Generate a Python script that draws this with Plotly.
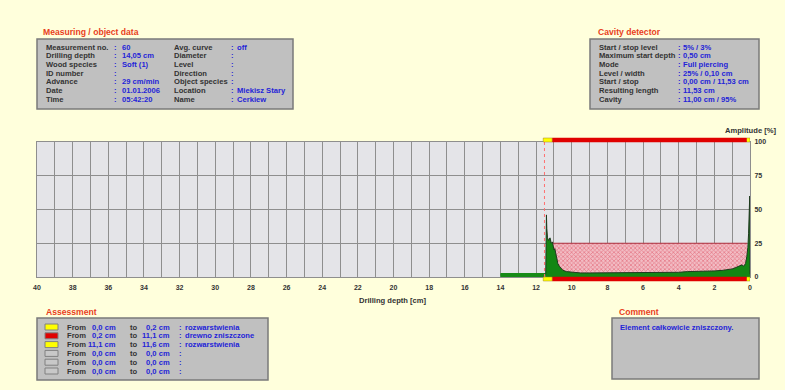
import plotly.graph_objects as go

# ---------------- data ----------------
meas_labels_1 = ["Measurement no.", "Drilling depth", "Wood species", "ID number", "Advance", "Date", "Time"]
meas_values_1 = ["60", "14,05 cm", "Soft (1)", "", "29 cm/min", "01.01.2006", "05:42:20"]
meas_labels_2 = ["Avg. curve", "Diameter", "Level", "Direction", "Object species", "Location", "Name"]
meas_values_2 = ["off", "", "", "", "", "Miekisz Stary", "Cerkiew"]

cav_labels = ["Start / stop level", "Maximum start depth", "Mode", "Level / width", "Start / stop", "Resulting length", "Cavity"]
cav_values = ["5% / 3%", "0,50 cm", "Full piercing", "25% / 0,10 cm", "0,00 cm / 11,53 cm", "11,53 cm", "11,00 cm / 95%"]

assess_from = [0.0, 0.2, 11.1, 0.0, 0.0, 0.0]
assess_to = [0.2, 11.1, 11.6, 0.0, 0.0, 0.0]
assess_text = ["rozwarstwienia", "drewno zniszczone", "rozwarstwienia", "", "", ""]
assess_color = ["#ffff00", "#e00000", "#ffff00", "#c8c8c8", "#c8c8c8", "#c8c8c8"]

comment_text = "Element całkowicie zniszczony."

cavity_stop = 11.53
cavity_level = 25
cavity_zone = [11.1, 0.15]

# feed line before the wood (depth cm, amplitude %)
feed_depth = [14.0, 13.0, 12.0, 11.46]
feed_amp = [2, 2, 2, 2]

# drilling resistance curve (depth cm, amplitude %)
depth = [11.46, 11.44, 11.42, 11.40, 11.36, 11.30, 11.22, 11.15, 11.08, 11.0, 10.95, 10.9, 10.85,
         10.78, 10.7, 10.6, 10.5, 10.3, 10.0, 9.5, 9.0, 8.5, 8.0, 7.5, 7.0, 6.5, 6.0, 5.5, 5.0,
         4.5, 4.0, 3.5, 3.0, 2.5, 2.0, 1.5, 1.2, 1.0, 0.8, 0.6, 0.45, 0.35, 0.25, 0.18, 0.12,
         0.08, 0.05, 0.03, 0.015, 0.0]
amp = [2, 30, 46, 36, 29, 27, 29, 25, 26, 20, 21, 18, 14,
       10, 8, 6, 5, 4, 3.5, 3, 3, 3, 3, 3, 3, 3, 3, 3, 3.5,
       3.5, 3.5, 4, 4, 4, 4.5, 5, 5.5, 6, 7, 8, 9, 8, 10, 15, 22,
       32, 45, 58, 60, 2]

x_ticks = list(range(40, -1, -2))
y_ticks = [0, 25, 50, 75, 100]

# ---------------- layout helpers ----------------
WIDTH, HEIGHT = 785, 390
PL, PR, PT, PB = 37, 750, 142, 277
PW, PH = PR - PL, PB - PT

BG = "#ffffdc"
RED_T = "#e8401c"
LAB = "#333333"
VAL = "#2424d8"
FONT = "Liberation Sans, Arial, sans-serif"

annotations = []
shapes = []


def fx(px):
    return (px - PL) / PW


def fy(py):
    return (PB - py) / PH


def txt(px, py, s, color, size=7.6, anchor="left", weight="bold"):
    annotations.append(dict(x=fx(px), y=fy(py), xref="paper", yref="paper", text=s,
                            showarrow=False, xanchor=anchor, yanchor="middle",
                            font=dict(family=FONT, size=size, color=color, weight=weight)))


def box(x0, y0, x1, y1, fill="#c0c0c0", line="#7a7a7a", lw=1.5):
    shapes.append(dict(type="rect", xref="paper", yref="paper", x0=fx(x0), x1=fx(x1),
                       y0=fy(y1), y1=fy(y0), fillcolor=fill, line=dict(color=line, width=lw),
                       layer="below"))


# ---------------- figure ----------------
fig = go.Figure()

# cavity hatched zone
fig.add_trace(go.Scatter(x=cavity_zone, y=[cavity_level, cavity_level], mode="lines",
                         line=dict(color="#b03040", width=1), fill="tozeroy",
                         fillcolor="rgba(0,0,0,0)",
                         fillpattern=dict(shape="x", fgcolor="#d84050", bgcolor="#f2bcc4",
                                          size=3, solidity=0.45),
                         hoverinfo="skip", showlegend=False))

# feed line
fig.add_trace(go.Scatter(x=feed_depth, y=feed_amp, mode="lines", fill="tozeroy",
                         fillcolor="#178a17", line=dict(color="#178a17", width=2.5),
                         showlegend=False))

# resistance curve
fig.add_trace(go.Scatter(x=depth, y=amp, mode="lines", fill="tozeroy",
                         fillcolor="#138613", line=dict(color="#1e3a1e", width=1),
                         showlegend=False))

# dotted cavity stop line
shapes.append(dict(type="line", xref="x", yref="y", x0=cavity_stop, x1=cavity_stop, y0=0, y1=100,
                   line=dict(color="#ff7070", width=1, dash="dot")))

# assessment bars top and bottom
for a, b, c in zip(assess_from, assess_to, assess_color):
    if b <= a:
        continue
    for y0, y1 in [(1.0, 1.0 + 4 / PH), (-4 / PH, 0.0)]:
        shapes.append(dict(type="rect", xref="x", yref="paper", x0=a, x1=b, y0=y0, y1=y1,
                           fillcolor=c, line=dict(color="#a08020" if c == "#ffff00" else c, width=0.5)))

TS = 8.6
# ---- Measuring / object data box ----
txt(41, 32, "Measuring / object data", RED_T, size=TS)
box(37, 39, 293, 109)
row0, dy = 47, 8.7
for i in range(7):
    y = row0 + i * dy
    txt(44, y, meas_labels_1[i], LAB)
    txt(112, y, ":", VAL)
    txt(120, y, meas_values_1[i], VAL)
    txt(172, y, meas_labels_2[i], LAB)
    txt(229, y, ":", VAL)
    txt(235, y, meas_values_2[i], VAL)

# ---- Cavity detector box ----
txt(596, 32, "Cavity detector", RED_T, size=TS)
box(590, 39, 759, 109)
for i in range(7):
    y = row0 + i * dy
    txt(597, y, cav_labels[i], LAB)
    txt(676, y, ":", VAL)
    txt(681, y, cav_values[i], VAL)

# ---- Assessment box ----
txt(44, 312, "Assessment", RED_T, size=TS)
box(37, 318, 268, 380)
for i in range(6):
    y = 327 + i * 8.8
    shapes.append(dict(type="rect", xref="paper", yref="paper", x0=fx(45), x1=fx(58),
                       y0=fy(y + 3), y1=fy(y - 3), fillcolor=assess_color[i],
                       line=dict(color="#808080", width=1)))
    txt(65, y, "From", LAB)
    txt(118, y, f"{assess_from[i]:.1f}".replace(".", ",") + " cm", VAL, anchor="right")
    txt(128, y, "to", LAB)
    txt(172, y, f"{assess_to[i]:.1f}".replace(".", ",") + " cm", VAL, anchor="right")
    txt(177, y, ":", VAL)
    txt(183, y, assess_text[i], VAL)

# ---- Comment box ----
txt(617, 312, "Comment", RED_T, size=TS)
box(612, 318, 759, 379)
txt(618, 327, comment_text, VAL)

# axis titles
txt(393, 300, "Drilling depth [cm]", LAB, anchor="center")
txt(751, 130, "Amplitude [%]", LAB, anchor="center")

fig.update_layout(
    width=WIDTH, height=HEIGHT,
    margin=dict(l=PL, r=WIDTH - PR, t=PT, b=HEIGHT - PB),
    paper_bgcolor=BG, plot_bgcolor="#e4e4e8",
    showlegend=False,
    annotations=annotations, shapes=shapes,
    xaxis=dict(range=[40, 0], tickvals=x_ticks, ticktext=[str(v) for v in x_ticks],
               showgrid=True, gridcolor="#8e8e8e", gridwidth=1,
               minor=dict(dtick=1, showgrid=True, gridcolor="#8e8e8e", gridwidth=1),
               zeroline=False, showline=True, linecolor="#8e8e8e", mirror=True,
               ticks="", ticklabelstandoff=4,
               tickfont=dict(family=FONT, size=7, color=LAB, weight="bold")),
    yaxis=dict(range=[0, 100], side="right", tickvals=y_ticks,
               showgrid=True, gridcolor="#8e8e8e", gridwidth=1, zeroline=False,
               showline=True, linecolor="#8e8e8e", mirror=True, ticks="",
               ticklabelstandoff=2,
               tickfont=dict(family=FONT, size=7, color=LAB, weight="bold")),
)

fig.write_html("out.html", config={"displayModeBar": False},
               post_script="document.body.style.margin='0';document.body.style.background='%s';" % BG)
